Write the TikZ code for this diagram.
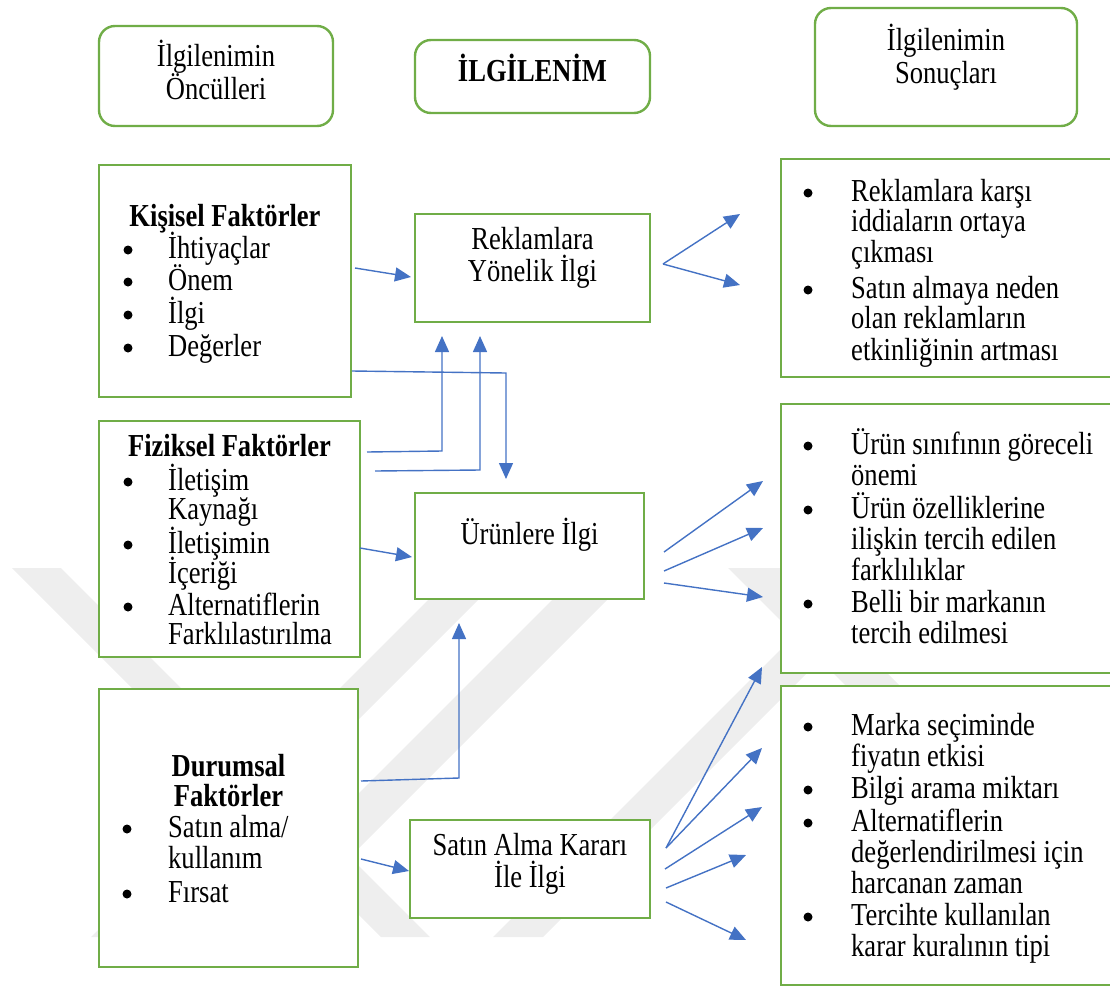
\documentclass[tikz,border=0pt]{standalone}
\usepackage{fontspec}
\setmainfont{Liberation Serif}[FakeStretch=0.83]
\usetikzlibrary{arrows.meta}
\definecolor{boxgreen}{HTML}{70AD47}
\definecolor{arrowblue}{HTML}{4472C4}
\definecolor{wmgray}{HTML}{EEEEEE}

\begin{document}
\begin{tikzpicture}[x=1pt,y=-1pt,
  box/.style={draw=boxgreen, line width=2.8pt, fill=white, inner sep=0pt},
  rbox/.style={box, rounded corners=16pt, line width=2.4pt},
  txt/.style={inner sep=0pt, anchor=base west, font=\fontsize{32}{33}\selectfont},
  ctxt/.style={txt, anchor=base},
  btxt/.style={ctxt, font=\fontsize{32}{33}\selectfont\bfseries},
  link/.style={draw=arrowblue, line width=1.4pt},
  arr/.style={link, -{Triangle[length=16pt,width=14pt]}},
  dot/.style={fill=black, circle, inner sep=0pt, minimum size=9pt}
]
\useasboundingbox (0,0) rectangle (1110,988);

% faint background bands
\begin{scope}[fill=wmgray]
  \fill (12,568) -- (61,568) -- (430,937) -- (381,937) -- cycle;
  \fill (91,937) -- (141,937) -- (510,568) -- (460,568) -- cycle;
  \fill (215,937) -- (270,937) -- (639,568) -- (584,568) -- cycle;
  \fill (493,937) -- (543,937) -- (912,568) -- (862,568) -- cycle;
  \fill (728,568) -- (782,568) -- (1151,937) -- (1097,937) -- cycle;
\end{scope}

% header boxes
\node[rbox, minimum width=234, minimum height=100] (pre) at (216,76) {};
\node[rbox, minimum width=235, minimum height=73] (ilg) at (532.5,76.5) {};
\node[rbox, minimum width=262, minimum height=118] (son) at (946,67) {};
\node[ctxt] (pre1) at (216,66) {İlgilenimin};
\node[ctxt] (pre2) at (216,99) {Öncülleri};
\node[btxt] (ilg1) at (532.5,81) {İLGİLENİM};
\node[ctxt] (son1) at (946,50) {İlgilenimin};
\node[ctxt] (son2) at (946,83) {Sonuçları};

% factor boxes
\node[box, minimum width=252, minimum height=232] (kis) at (225,281) {};
\node[box, minimum width=261, minimum height=236] (fiz) at (229.5,539) {};
\node[box, minimum width=259, minimum height=278] (dur) at (228.5,828) {};

% involvement boxes
\node[box, minimum width=235, minimum height=108] (rek) at (532.5,268) {};
\node[box, minimum width=229, minimum height=106] (urn) at (529.5,546) {};
\node[box, minimum width=240, minimum height=98] (sat) at (530,869) {};

% outcome boxes
\node[box, minimum width=333, minimum height=218] (ra) at (947.5,268) {};
\node[box, minimum width=333, minimum height=269] (rb) at (947.5,538.5) {};
\node[box, minimum width=333, minimum height=299] (rc) at (947.5,835.5) {};

% factor texts
\node[btxt] (kis0) at (225,226) {Kişisel Faktörler};
\foreach \y/\t [count=\i] in {258/İhtiyaçlar,290/Önem,323/İlgi,356/Değerler}
  \node[txt] (kis\i) at (168,\y) {\t};
\foreach \y [count=\i] in {258,290,323,356}
  \node[dot] (kisb\i) at (128,\y-8) {};

\node[btxt] (fiz0) at (229.5,456) {Fiziksel Faktörler};
\foreach \y/\t [count=\i] in {490/İletişim,519/Kaynağı,553/İletişimin,583/İçeriği,615/Alternatiflerin,644/Farklılastırılma}
  \node[txt] (fiz\i) at (168,\y) {\t};
\foreach \y [count=\i] in {490,553,615}
  \node[dot] (fizb\i) at (128,\y-8) {};

\node[btxt] (dur0) at (228.5,776) {Durumsal};
\node[btxt] (dur00) at (228.5,806) {Faktörler};
\foreach \y/\t [count=\i] in {837/{Satın alma/},868/kullanım,902/Fırsat}
  \node[txt] (dur\i) at (168,\y) {\t};
\foreach \y [count=\i] in {837,902}
  \node[dot] (durb\i) at (127,\y-8) {};

% involvement texts
\node[ctxt] (rek1) at (532.5,249) {Reklamlara};
\node[ctxt] (rek2) at (532.5,281) {Yönelik İlgi};
\node[ctxt] (urn1) at (529.5,544) {Ürünlere İlgi};
\node[ctxt] (sat1) at (530,855) {Satın Alma Kararı};
\node[ctxt] (sat2) at (530,887) {İle İlgi};

% outcome texts
\foreach \y/\t [count=\i] in {201/Reklamlara karşı,231/iddiaların ortaya,262/çıkması,298/Satın almaya neden,328/olan reklamların,360/etkinliğinin artması}
  \node[txt] (ra\i) at (851,\y) {\t};
\foreach \y [count=\i] in {201,298}
  \node[dot] (rab\i) at (808,\y-8) {};

\foreach \y/\t [count=\i] in {454/Ürün sınıfının göreceli,485/önemi,518/Ürün özelliklerine,549/ilişkin tercih edilen,580/farklılıklar,612/Belli bir markanın,643/tercih edilmesi}
  \node[txt] (rb\i) at (851,\y) {\t};
\foreach \y [count=\i] in {454,518,612}
  \node[dot] (rbb\i) at (808,\y-8) {};

\foreach \y/\t [count=\i] in {735/Marka seçiminde,766/fiyatın etkisi,798/Bilgi arama miktarı,831/Alternatiflerin,862/değerlendirilmesi için,893/harcanan zaman,925/Tercihte kullanılan,956/karar kuralının tipi}
  \node[txt] (rc\i) at (851,\y) {\t};
\foreach \y [count=\i] in {735,798,831,925}
  \node[dot] (rcb\i) at (808,\y-8) {};

% connector end points
\coordinate (k1) at (355,268);   \coordinate (k1e) at (411,277);
\coordinate (k2) at (352,371);   \coordinate (k2m) at (506,373);  \coordinate (k2e) at (506,479);
\coordinate (f1) at (367,452);   \coordinate (f1m) at (442,451);  \coordinate (f1e) at (442,336);
\coordinate (f2) at (375,471);   \coordinate (f2m) at (480,470);  \coordinate (f2e) at (480,336);
\coordinate (f3) at (360,548);   \coordinate (f3e) at (412,557);
\coordinate (d1) at (361,781);   \coordinate (d1m) at (459,778);  \coordinate (d1e) at (459,623);
\coordinate (d2) at (361,859);   \coordinate (d2e) at (409,871);

\coordinate (o1) at (663,264);
\coordinate (o1a) at (740,214);  \coordinate (o1b) at (740,285);
\coordinate (o2a) at (664,552);  \coordinate (o2b) at (664,571);  \coordinate (o2c) at (664,583);
\coordinate (t2a) at (763,481);  \coordinate (t2b) at (763,528);  \coordinate (t2c) at (763,597);
\coordinate (o3a) at (666,848);  \coordinate (o3b) at (665,869);  \coordinate (o3c) at (666,888);  \coordinate (o3d) at (666,902);
\coordinate (t3a) at (762,667);  \coordinate (t3b) at (762,748);  \coordinate (t3c) at (762,807);
\coordinate (t3d) at (746,855);  \coordinate (t3e) at (746,940);

% connectors from the factors
\draw[arr] (k1) -- (k1e);
\draw[arr] (k2) -- (k2m) -- (k2e);
\draw[arr] (f1) -- (f1m) -- (f1e);
\draw[arr] (f2) -- (f2m) -- (f2e);
\draw[arr] (f3) -- (f3e);
\draw[arr] (d1) -- (d1m) -- (d1e);
\draw[arr] (d2) -- (d2e);

% connectors to the outcomes
\draw[arr] (o1) -- (o1a);
\draw[arr] (o1) -- (o1b);
\draw[arr] (o2a) -- (t2a);
\draw[arr] (o2b) -- (t2b);
\draw[arr] (o2c) -- (t2c);
\draw[arr] (o3a) -- (t3a);
\draw[arr] (o3a) -- (t3b);
\draw[arr] (o3b) -- (t3c);
\draw[arr] (o3c) -- (t3d);
\draw[arr] (o3d) -- (t3e);
\end{tikzpicture}
\end{document}
